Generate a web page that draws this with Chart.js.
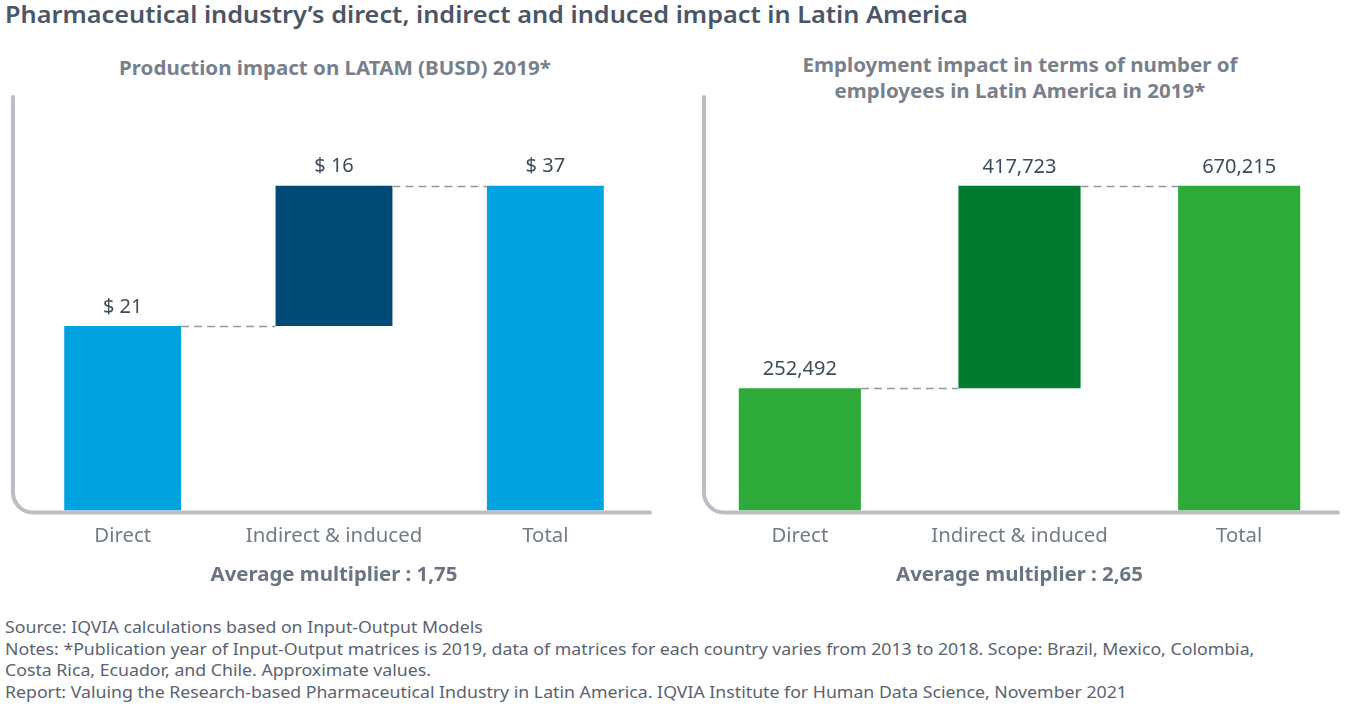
<!DOCTYPE html>
<html>
<head>
<meta charset="utf-8">
<script src="https://cdn.jsdelivr.net/npm/chart.js@4.4.1/dist/chart.umd.min.js"></script>
<style>
  html, body { margin: 0; padding: 0; background: #ffffff; }
  body { width: 1352px; height: 715px; position: relative; overflow: hidden; font-family: "Noto Sans", "Open Sans", sans-serif; }
  .title { position: absolute; left: 5px; top: -2px; font-size: 23px; font-weight: 600; color: #4b5565; white-space: nowrap; transform: scaleX(1.1); transform-origin: left center; }
  .sub { position: absolute; font-size: 19px; font-weight: 700; color: #78808b; text-align: center; line-height: 26px; transform: scaleX(1.08); transform-origin: center; }
  .wrap { position: absolute; }
  .notes { position: absolute; left: 5px; top: 617px; font-size: 16px; color: #5a6370; line-height: 21.5px; white-space: nowrap; transform: scaleX(1.107); transform-origin: left top; }
</style>
</head>
<body>
<div class="title">Pharmaceutical industry’s direct, indirect and induced impact in Latin America</div>
<div class="sub" style="left:35px; width:600px; top:55px;">Production impact on LATAM (BUSD) 2019*</div>
<div class="sub" style="left:720px; width:600px; top:52px;">Employment impact in terms of number of<br>employees in Latin America in 2019*</div>

<div class="wrap" style="left:0px; top:90px; width:676px; height:497px;"><canvas id="c1"></canvas></div>
<div class="wrap" style="left:676px; top:90px; width:676px; height:497px;"><canvas id="c2"></canvas></div>

<div class="notes">Source: IQVIA calculations based on Input-Output Models<br>Notes: *Publication year of Input-Output matrices is 2019, data of matrices for each country varies from 2013 to 2018. Scope: Brazil, Mexico, Colombia,<br>Costa Rica, Ecuador, and Chile. Approximate values.<br>Report: Valuing the Research-based Pharmaceutical Industry in Latin America. IQVIA Institute for Human Data Science, November 2021</div>

<script>
// ---- Data ----
const categories = ["Direct", "Indirect & induced", "Total"];
const productionValues = [21, 16, 37];          // BUSD
const productionLabels = ["$ 21", "$ 16", "$ 37"];
const productionColors = ["#00a3e0", "#004b76", "#00a3e0"];
const productionMultiplier = "Average multiplier : 1,75";

const employmentValues = [252492, 417723, 670215];
const employmentLabels = ["252,492", "417,723", "670,215"];
const employmentColors = ["#2eaa3a", "#007c30", "#2eaa3a"];
const employmentMultiplier = "Average multiplier : 2,65";

function waterfall(vals) {
  return [[0, vals[0]], [vals[0], vals[0] + vals[1]], [0, vals[2]]];
}

const decoPlugin = {
  id: 'deco',
  beforeDatasetsDraw(chart, args, opts) {
    const ctx = chart.ctx, ca = chart.chartArea;
    const x0 = ca.left + opts.axisOffset, y0 = ca.bottom + 2, r = 20;
    ctx.save();
    ctx.strokeStyle = '#babfc6';
    ctx.lineWidth = 4;
    ctx.lineCap = 'round';
    ctx.beginPath();
    ctx.moveTo(x0, ca.top + 7);
    ctx.lineTo(x0, y0 - r);
    ctx.arcTo(x0, y0, x0 + r, y0, r);
    ctx.lineTo(opts.axisEnd, y0);
    ctx.stroke();
    ctx.restore();
  },
  afterDatasetsDraw(chart, args, opts) {
    const ctx = chart.ctx;
    const bars = chart.getDatasetMeta(0).data;
    ctx.save();
    // connectors
    ctx.strokeStyle = '#999999';
    ctx.lineWidth = 1.5;
    ctx.setLineDash([8, 5]);
    for (let i = 0; i < bars.length - 1; i++) {
      const a = bars[i], b = bars[i + 1];
      const y = Math.round(a.y) + 0.5;
      ctx.beginPath();
      ctx.moveTo(a.x + a.width / 2, y);
      ctx.lineTo(b.x - b.width / 2, y);
      ctx.stroke();
    }
    ctx.setLineDash([]);
    // value labels
    ctx.fillStyle = '#3f4a5a';
    ctx.font = '20px "Noto Sans"';
    ctx.textAlign = 'center';
    ctx.textBaseline = 'middle';
    bars.forEach((bar, i) => {
      ctx.fillText(opts.labels[i], bar.x, bar.y - 19);
    });
    ctx.restore();
  }
};

function makeChart(id, vals, labels, colors, multiplier, yMax, pad, barPct, axisOffset, axisEnd) {
  return new Chart(document.getElementById(id), {
    type: 'bar',
    data: {
      labels: categories,
      datasets: [{
        data: waterfall(vals),
        backgroundColor: colors,
        borderWidth: 0,
        barPercentage: barPct,
        categoryPercentage: 1
      }]
    },
    options: {
      responsive: true,
      maintainAspectRatio: false,
      animation: false,
      layout: { padding: { left: pad[0], right: pad[1], top: 0, bottom: 0 } },
      plugins: {
        legend: { display: false },
        tooltip: { enabled: false },
        deco: { labels: labels, axisOffset: axisOffset, axisEnd: axisEnd }
      },
      scales: {
        x: {
          grid: { display: false, drawTicks: false },
          border: { display: false },
          ticks: { color: '#737b86', font: { family: 'Noto Sans', size: 20.4 }, padding: 13.8, maxRotation: 0 },
          title: { display: true, text: multiplier, color: '#6b7480', font: { family: 'Noto Sans', size: 20.4, weight: 'bold' }, padding: { top: 0, bottom: 0 } }
        },
        y: { display: false, min: 0, max: yMax }
      }
    },
    plugins: [decoPlugin]
  });
}

makeChart('c1', productionValues, productionLabels, productionColors, productionMultiplier, 47.9, [17, 25], 0.553, -4, 650);
makeChart('c2', employmentValues, employmentLabels, employmentColors, employmentMultiplier, 868000, [14, 3], 0.556, 14, 662);
</script>
</body>
</html>
